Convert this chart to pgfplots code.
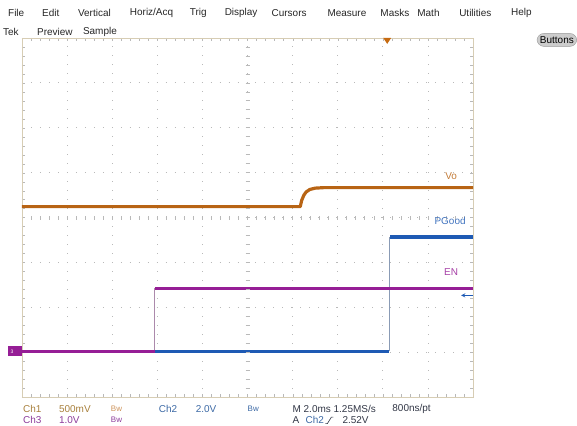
\documentclass[border=0pt]{standalone}
\usepackage{pgfplots}
\pgfplotsset{compat=1.18}
\usepackage{fontspec}
\setmainfont{Liberation Sans}
\definecolor{vo}{RGB}{184,100,20}
\definecolor{pg}{RGB}{30,90,180}
\definecolor{en}{RGB}{150,30,150}
\definecolor{grat}{RGB}{185,185,185}
\definecolor{bord}{RGB}{215,205,180}
\definecolor{chone}{RGB}{168,128,60}
\definecolor{chtwo}{RGB}{60,105,165}
\definecolor{chthree}{RGB}{140,60,155}
\definecolor{dk}{RGB}{50,55,70}
\begin{document}
\begin{tikzpicture}
\begin{scope}[x=1pt,y=1pt]
\path[use as bounding box] (0,0) rectangle (577,426);
\end{scope}
\begin{axis}[at={(22pt,28pt)}, anchor=south west, scale only axis,
  width=452pt, height=360pt, xmin=0, xmax=10, ymin=0, ymax=8,
  xtick={0,...,10}, ytick={0,...,8}, xticklabels={}, yticklabels={},
  minor x tick num=4, minor y tick num=4, tick align=inside,
  major tick length=3pt, minor tick length=3pt, tick style={grat},
  axis line style={bord, line width=0.8pt},
  grid=major, major grid style={grat, line width=0.7pt, dash pattern=on 0.7pt off 8.3pt},
  line join=round]
\addplot[vo, line width=3.2pt] coordinates {(0,4.244) (6.17,4.244) (6.2,4.38) (6.25,4.5) (6.3,4.57) (6.38,4.625) (6.5,4.655) (6.7,4.667) (10,4.667)};
\addplot[pg, line width=3pt] coordinates {(0,1.022) (8.14,1.022)};
\addplot[pg!40!gray!70, line width=0.8pt] coordinates {(8.14,1.022) (8.14,3.578)};
\addplot[pg, line width=4pt] coordinates {(8.16,3.578) (10,3.578)};
\addplot[en!40!gray!70, line width=0.8pt] coordinates {(2.94,1.022) (2.94,2.422)};
\addplot[en, line width=3pt] coordinates {(0,1.022) (2.94,1.022)};
\addplot[en, line width=3pt] coordinates {(2.95,2.422) (10,2.422)};
\end{axis}
\begin{scope}[x=1pt,y=1pt]
% centre graticule ticks
\foreach \i in {1,...,39} \draw[grat, line width=0.6pt] (246,{28+9*\i}) -- (250,{28+9*\i});
\foreach \i in {1,...,49} \draw[grat, line width=0.6pt] ({22+9.04*\i},206) -- ({22+9.04*\i},210);
% trace labels
\node[vo!85!white, font=\fontsize{10}{11}\selectfont] at (452,250) {Vo};
\node[pg!85!white, font=\fontsize{10}{11}\selectfont] at (451,205) {PGood};
\node[en!85!white, font=\fontsize{10}{11}\selectfont] at (452,153) {EN};
% ground marker
\fill[en] (8,69) rectangle (22,79);
\node[white, font=\fontsize{5}{5}\selectfont] at (12,74) {3};
% trigger level arrow
\draw[pg, line width=0.9pt, -stealth] (474,130) -- (462,130);
% trigger position
\fill[vo!80!orange] (384,388) -- (392,388) -- (388,382) -- cycle;
% menu
\begin{scope}[every node/.style={anchor=west, inner sep=0pt, font=\fontsize{10}{12}\selectfont, text=black!85}]
\node at (8,413) {File};
\node at (42,413) {Edit};
\node at (78,413) {Vertical};
\node at (130,413) {Horiz/Acq};
\node at (190,413) {Trig};
\node at (225,413) {Display};
\node at (272,413) {Cursors};
\node at (328,413) {Measure};
\node at (381,413) {Masks};
\node at (418,413) {Math};
\node at (460,413) {Utilities};
\node at (512,413) {Help};
\node at (3,394) {Tek};
\node at (37,394) {Preview};
\node at (83,394) {Sample};
\end{scope}
\node[fill=gray!40, draw=gray!80, rounded corners=7pt, inner xsep=3pt, inner ysep=3pt, font=\fontsize{10}{11}\selectfont] at (558,386) {Buttons};
% bottom readout
\begin{scope}[every node/.style={anchor=west, inner sep=0pt, font=\fontsize{10}{11}\selectfont}]
\node[text=chone] at (23,16) {Ch1};
\node[text=chone] at (59,16) {500mV};
\node[text=vo!70!white, font=\fontsize{8}{9}\selectfont] at (111,16) {Bw};
\node[text=chtwo] at (159,16) {Ch2};
\node[text=chtwo] at (196,16) {2.0V};
\node[text=chtwo, font=\fontsize{8}{9}\selectfont] at (248,16) {Bw};
\node[text=dk] at (293,16) {M 2.0ms 1.25MS/s};
\node[text=dk] at (393,16) {800ns/pt};
\node[text=chthree] at (23,5) {Ch3};
\node[text=chthree] at (59,5) {1.0V};
\node[text=chthree, font=\fontsize{8}{9}\selectfont] at (111,5) {Bw};
\node[text=dk] at (293,5) {A};
\node[text=chtwo] at (306,5) {Ch2};
\node[text=dk] at (343,5) {2.52V};
\end{scope}
\draw[dk, line width=0.6pt] (326,1.5) -- (328,1.5) -- (332,8) -- (334,8);
\end{scope}
\end{tikzpicture}
\end{document}
